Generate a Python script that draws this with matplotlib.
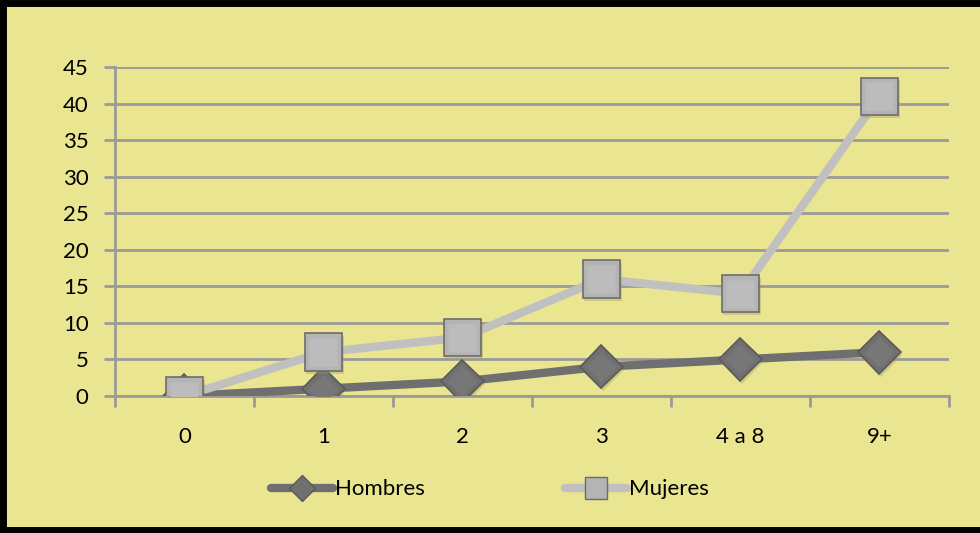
import matplotlib.pyplot as plt
from matplotlib.lines import Line2D
import matplotlib.patheffects as pe

plt.rcParams['font.family'] = ['Lato', 'DejaVu Sans']

categorias = ['0', '1', '2', '3', '4 a 8', '9+']
hombres = [0, 1, 2, 4, 5, 6]
mujeres = [0, 6, 8, 16, 14, 41]
yticks = [0, 5, 10, 15, 20, 25, 30, 35, 40, 45]

fondo = '#EAE590'
gris_rejilla = '#9A9A9A'
c_hombres = '#6F6F6F'
c_mujeres = '#C0C0C0'

fig = plt.figure(figsize=(9.8, 5.33), dpi=100)
fig.patch.set_facecolor(fondo)
ax = fig.add_axes([0.1173, 0.257, 0.851, 0.617])
ax.set_facecolor(fondo)

x = list(range(len(categorias)))
sombra = [pe.SimplePatchShadow(offset=(1, -2), shadow_rgbFace='#9a9660', alpha=0.35), pe.Normal()]

ax.plot(x, hombres, color=c_hombres, lw=6, solid_capstyle='round', zorder=3)
ax.plot(x, mujeres, color=c_mujeres, lw=6, solid_capstyle='round', zorder=3)
ax.plot(x, hombres, ls='none', marker='D', ms=22, mfc='#707070', mec='#5a5a5a', mew=1.2,
        zorder=4, path_effects=sombra)
ax.plot(x, mujeres, ls='none', marker='s', ms=27, mfc='#B4B4B4', mec='#6c6c6c', mew=1.2,
        zorder=5, path_effects=sombra)
# brillo interior de los marcadores
ax.plot(x, mujeres, ls='none', marker='s', ms=20, mfc='#BCBCBC', mec='none', zorder=6)
ax.plot(x, hombres, ls='none', marker='D', ms=15, mfc='#777777', mec='none', zorder=4.5)

ax.set_xlim(-0.5, len(categorias) - 0.5)
ax.set_ylim(0, 45)
ax.set_yticks(yticks)
ax.set_xticks(x)
ax.set_xticklabels(categorias)
ax.set_xticks([i - 0.5 for i in range(len(categorias) + 1)], minor=True)
ax.yaxis.grid(True, color=gris_rejilla, lw=2)
ax.set_axisbelow(True)

for s in ['top', 'right']:
    ax.spines[s].set_visible(False)
for s in ['left', 'bottom']:
    ax.spines[s].set_color(gris_rejilla)
    ax.spines[s].set_linewidth(2)
ax.tick_params(axis='y', length=8, width=2, color=gris_rejilla, labelsize=16, pad=11)
ax.tick_params(axis='x', which='major', length=0, labelsize=16, pad=22)
ax.tick_params(axis='x', which='minor', length=8, width=2, color=gris_rejilla)

handles = [
    Line2D([], [], color=c_hombres, lw=6, solid_capstyle='round', marker='D', ms=13,
           mfc='#707070', mec='#5a5a5a'),
    Line2D([], [], color=c_mujeres, lw=6, solid_capstyle='round', marker='s', ms=16,
           mfc='#B4B4B4', mec='#6c6c6c'),
]
fig.legend(handles, ['Hombres', 'Mujeres'], loc='center', bbox_to_anchor=(0.5, 0.082),
           ncol=2, frameon=False, fontsize=16, handlelength=2.8, handletextpad=0.1,
           columnspacing=6.3)

# marco negro
fig.add_artist(Line2D([0.003, 0.003], [0, 1], color='black', lw=5, transform=fig.transFigure))
fig.add_artist(Line2D([0, 1], [0.995, 0.995], color='black', lw=5, transform=fig.transFigure))
fig.add_artist(Line2D([0, 1], [0.006, 0.006], color='black', lw=5, transform=fig.transFigure))

fig.savefig('out.png', dpi=100, facecolor=fondo)
